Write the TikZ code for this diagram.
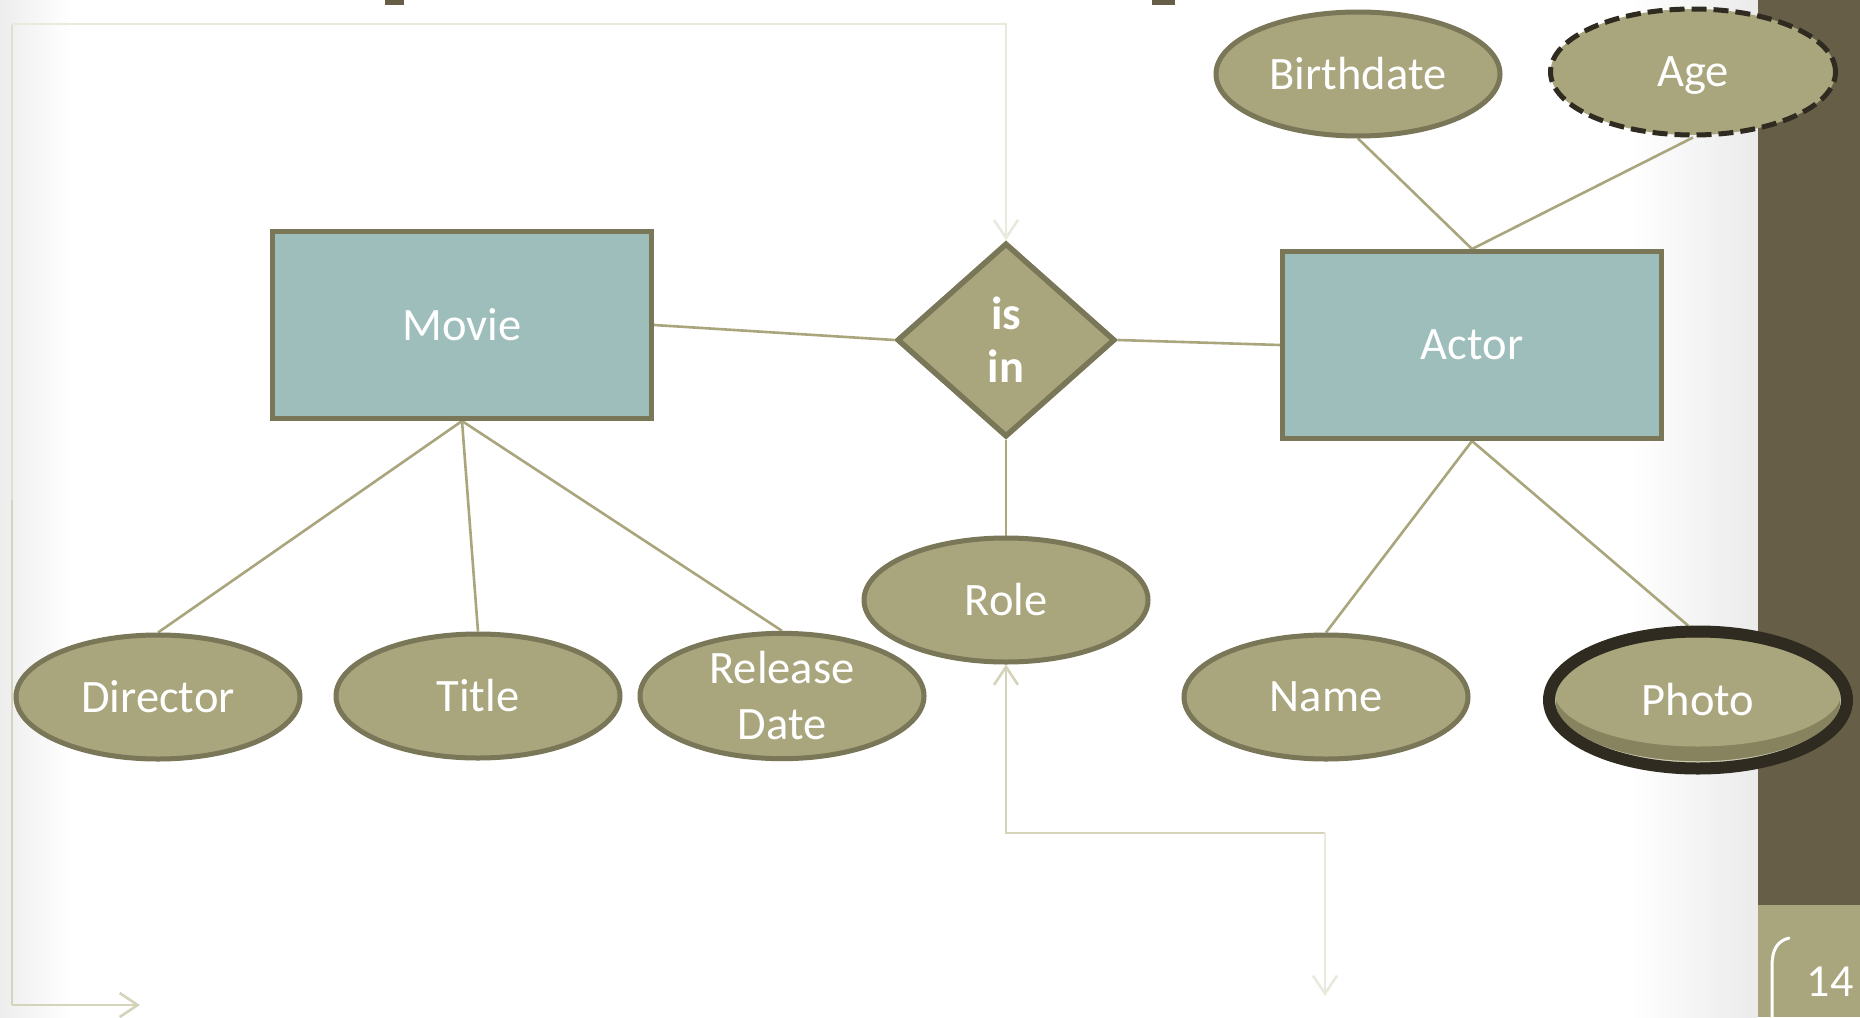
\documentclass[tikz,border=0pt]{standalone}
\usepackage{fontspec}
\setmainfont{Carlito}
\usetikzlibrary{shapes.geometric,arrows.meta}
\definecolor{olivefill}{HTML}{A9A57C}
\definecolor{oliveline}{HTML}{7A7658}
\definecolor{tealfill}{HTML}{9EBEBB}
\definecolor{barbrown}{HTML}{675E47}
\definecolor{ringdark}{HTML}{2F2B20}
\definecolor{shadowolive}{HTML}{87835F}
\definecolor{connA}{HTML}{D6D3BB}
\definecolor{connM}{HTML}{E0DECE}
\definecolor{connB}{HTML}{EAE9DE}
\pgfdeclarelayer{bg}
\pgfdeclarelayer{edges}
\pgfsetlayers{bg,edges,main}

\begin{document}
\begin{tikzpicture}[x=1pt,y=-1pt,
  lbl/.style={text=white,font=\fontsize{46.5}{56}\selectfont,align=center},
  entity/.style={lbl,rectangle,draw=oliveline,fill=tealfill,line width=5pt,
    minimum width=379pt,minimum height=187pt,inner sep=0pt},
  attr/.style={lbl,ellipse,draw=oliveline,fill=olivefill,line width=5pt,
    minimum width=284pt,minimum height=124pt,inner sep=0pt},
  rel/.style={lbl,diamond,draw=oliveline,fill=olivefill,line width=5.5pt,
    minimum width=218pt,minimum height=194pt,inner sep=0pt,
    font=\fontsize{46.5}{53}\selectfont\bfseries},
  link/.style={draw=olivefill,line width=2.6pt},
  wire/.style={line width=2.6pt},
  tipend/.style={-{Straight Barb[length=18pt,width=24pt]}},
  tipstart/.style={{Straight Barb[length=18pt,width=24pt]}-},
]
\useasboundingbox (0,0) rectangle (1860,1017);

% page background, side bar and page number tab
\begin{pgfonlayer}{bg}
  \fill[white] (0,0) rectangle (1860,1017);
  \shade[left color=black!7, right color=white] (0,0) rectangle (70,1017);
  \shade[left color=white, right color=black!8] (1630,0) rectangle (1758,1017);
  \fill[barbrown] (1758,0) rectangle (1860,905);
  \fill[olivefill] (1758,905) rectangle (1860,1017);
  \fill[barbrown] (385,0) rectangle (404,5);
  \fill[barbrown] (1152,0) rectangle (1175,5);
  \draw[white,line width=3pt,line cap=round]
    (1789,938) .. controls (1777,941) and (1772,950) .. (1772,966) -- (1772,1020);
\end{pgfonlayer}
\node[text=white,font=\fontsize{46}{50}\selectfont] (pagenum) at (1830,982) {14};

% entities and relationship
\node[entity] (movie) at (462,325) {Movie};
\node[entity] (actor) at (1472,345) {Actor};
\node[rel] (isin) at (1006,340) {is\\in};

% attributes
\node[attr] (director) at (158,697) {Director};
\node[attr] (title) at (478,696) {Title};
\node[attr] (release) at (782,696) {Release\\Date};
\node[attr] (role) at (1006,600) {Role};
\node[attr] (name) at (1326,697) {Name};
\node[attr] (birth) at (1358,74) {Birthdate};
\node[attr,draw=ringdark,line width=5pt,dash pattern=on 15pt off 7pt,
  minimum width=285pt,minimum height=126pt,text depth=0pt] (age) at (1693,72) {Age};
\node[attr,draw=ringdark,line width=12pt,minimum width=298pt,minimum height=137pt,
  path picture={
    \fill[shadowolive] (path picture bounding box.south west)
      rectangle (path picture bounding box.north east);
    \draw[olivefill!60!white,line width=1.5pt] ([yshift=-2pt]path picture bounding box.center)
      ellipse [x radius=143pt, y radius=60pt];
    \fill[olivefill] ([yshift=8pt]path picture bounding box.center)
      ellipse [x radius=143.5pt, y radius=54.5pt];
  }] (photo) at (1698,700) {Photo};

% relationship lines
\begin{pgfonlayer}{edges}
  \draw[link] (movie.south) -- (director.north);
  \draw[link] (movie.south) -- (title.north);
  \draw[link] (movie.south) -- (release.north);
  \draw[link] (movie.east) -- (isin.west);
  \draw[link] (isin.east) -- (actor.west);
  \draw[link] (isin.south) -- (role.north);
  \draw[link] (actor.south) -- (name.north);
  \draw[link] (actor.south) -- ([xshift=-10pt]photo.north);
  \draw[link] (actor.north) -- (birth.south);
  \draw[link] (actor.north) -- (age.south);

  % loose elbow connectors
  \coordinate (frameend) at (140,1005);
  \coordinate (framebl) at (12,1005);
  \coordinate (frameml) at (12,500);
  \coordinate (frametl) at (12,24);
  \coordinate (roleknee) at (1006,833);
  \coordinate (roleturn) at (1325,833);
  \coordinate (roleend) at (1325,996);
  \draw[wire,connA,tipend] (framebl) -- (frameend);
  \draw[wire,connA] (framebl) -- (frameml);
  \draw[wire,connM] (frameml) -- (frametl);
  \draw[wire,connB,tipend] (frametl) -| (isin.north);
  \draw[wire,connA,tipstart] (role.south) -- (roleknee) -- (roleturn);
  \draw[wire,connB,tipend] (roleturn) -- (roleend);
\end{pgfonlayer}
\end{tikzpicture}
\end{document}
